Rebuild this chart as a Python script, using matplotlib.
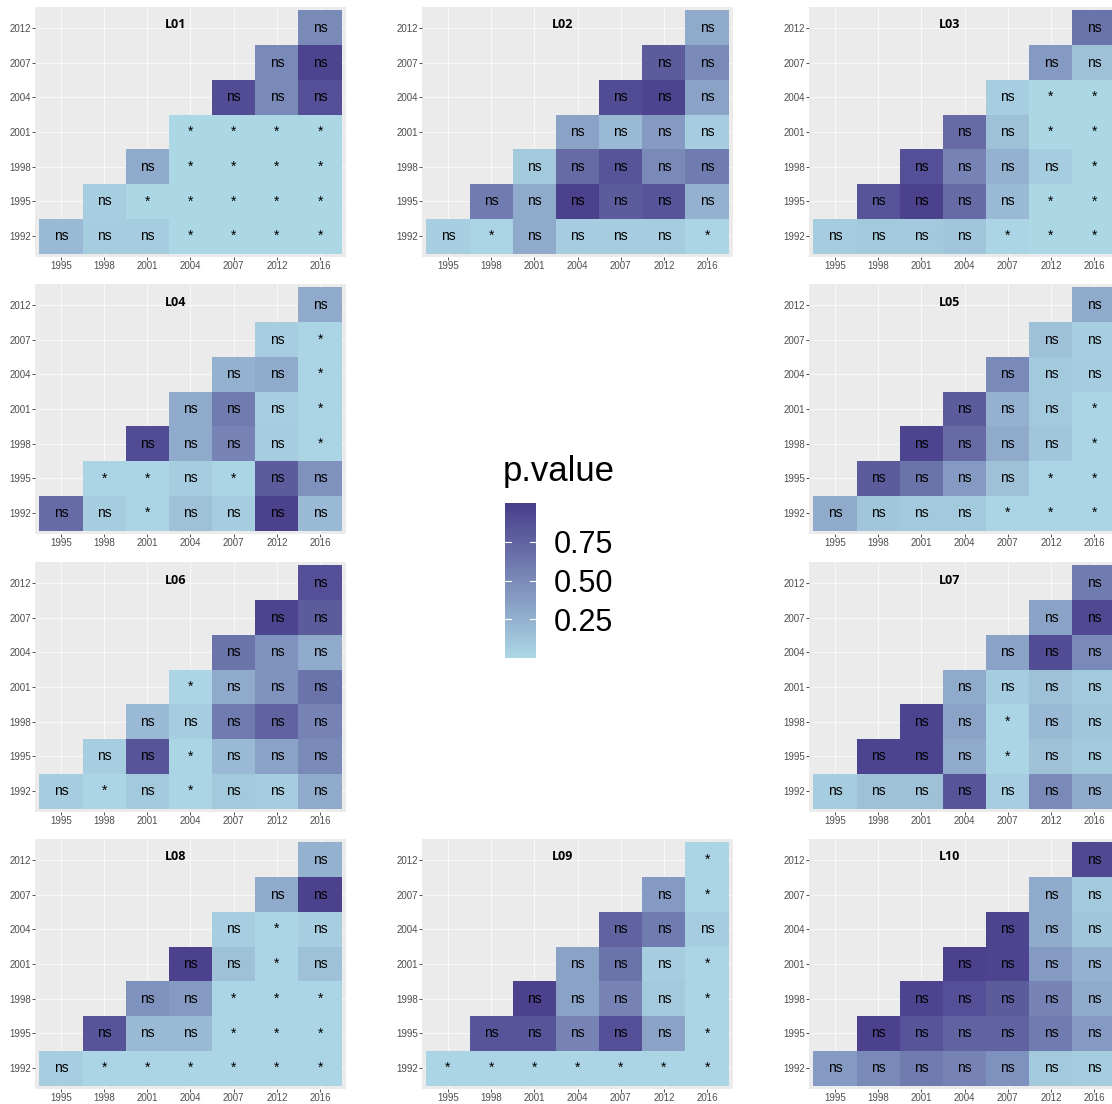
import numpy as np
import matplotlib
matplotlib.use("Agg")
import matplotlib.pyplot as plt
from matplotlib.colors import LinearSegmentedColormap, Normalize

# years on each axis of the pairwise comparison
x_years = ["1995", "1998", "2001", "2004", "2007", "2012", "2016"]
y_years = ["1992", "1995", "1998", "2001", "2004", "2007", "2012"]

# p-values, one row per y year (1992 upwards), starting at the diagonal
p_L01 = [[0.20, 0.08, 0.08, 0.01, 0.01, 0.01, 0.01],
         [0.07, 0.01, 0.01, 0.01, 0.01, 0.01],
         [0.30, 0.01, 0.01, 0.01, 0.01],
         [0.01, 0.01, 0.01, 0.01],
         [0.90, 0.50, 0.88],
         [0.50, 0.95],
         [0.50]]
p_L02 = [[0.06, 0.03, 0.30, 0.08, 0.08, 0.08, 0.02],
         [0.60, 0.30, 0.97, 0.80, 0.85, 0.25],
         [0.10, 0.70, 0.85, 0.50, 0.60],
         [0.35, 0.20, 0.40, 0.08],
         [0.90, 0.95, 0.35],
         [0.80, 0.50],
         [0.30]]
p_L03 = [[0.08, 0.10, 0.10, 0.12, 0.02, 0.01, 0.01],
         [0.85, 0.97, 0.70, 0.20, 0.01, 0.01],
         [0.88, 0.55, 0.25, 0.08, 0.01],
         [0.70, 0.15, 0.01, 0.01],
         [0.07, 0.01, 0.01],
         [0.40, 0.15],
         [0.65]]
p_L04 = [[0.70, 0.08, 0.02, 0.15, 0.08, 0.97, 0.20],
         [0.02, 0.02, 0.08, 0.02, 0.80, 0.45],
         [0.90, 0.30, 0.55, 0.08, 0.02],
         [0.30, 0.60, 0.07, 0.02],
         [0.25, 0.30, 0.02],
         [0.07, 0.02],
         [0.30]]
p_L05 = [[0.30, 0.12, 0.10, 0.10, 0.02, 0.02, 0.02],
         [0.80, 0.65, 0.40, 0.15, 0.02, 0.02],
         [0.95, 0.70, 0.30, 0.12, 0.02],
         [0.80, 0.25, 0.10, 0.02],
         [0.50, 0.10, 0.08],
         [0.15, 0.07],
         [0.30]]
p_L06 = [[0.08, 0.02, 0.10, 0.02, 0.10, 0.08, 0.30],
         [0.07, 0.85, 0.02, 0.20, 0.35, 0.50],
         [0.20, 0.08, 0.60, 0.75, 0.55],
         [0.02, 0.30, 0.45, 0.65],
         [0.65, 0.45, 0.30],
         [0.95, 0.80],
         [0.88]]
p_L07 = [[0.08, 0.15, 0.15, 0.85, 0.07, 0.50, 0.30],
         [0.95, 0.95, 0.30, 0.02, 0.15, 0.10],
         [0.95, 0.35, 0.02, 0.20, 0.12],
         [0.30, 0.08, 0.15, 0.10],
         [0.35, 0.90, 0.50],
         [0.35, 0.92],
         [0.60]]
p_L08 = [[0.07, 0.02, 0.02, 0.02, 0.02, 0.02, 0.02],
         [0.85, 0.20, 0.20, 0.02, 0.02, 0.02],
         [0.45, 0.40, 0.02, 0.02, 0.02],
         [0.97, 0.15, 0.02, 0.15],
         [0.07, 0.02, 0.07],
         [0.30, 0.97],
         [0.25]]
p_L09 = [[0.02, 0.02, 0.02, 0.02, 0.02, 0.02, 0.02],
         [0.85, 0.85, 0.55, 0.88, 0.35, 0.02],
         [0.97, 0.35, 0.55, 0.10, 0.02],
         [0.35, 0.65, 0.08, 0.02],
         [0.75, 0.60, 0.08],
         [0.40, 0.02],
         [0.02]]
p_L10 = [[0.40, 0.50, 0.60, 0.55, 0.45, 0.10, 0.08],
         [0.97, 0.85, 0.75, 0.75, 0.60, 0.40],
         [0.95, 0.88, 0.80, 0.55, 0.30],
         [0.97, 0.95, 0.40, 0.25],
         [0.95, 0.30, 0.12],
         [0.30, 0.10],
         [0.92]]

panels = [("L01", p_L01, 0, 0), ("L02", p_L02, 0, 1), ("L03", p_L03, 0, 2),
          ("L04", p_L04, 1, 0), ("L05", p_L05, 1, 2),
          ("L06", p_L06, 2, 0), ("L07", p_L07, 2, 2),
          ("L08", p_L08, 3, 0), ("L09", p_L09, 3, 1), ("L10", p_L10, 3, 2)]

W, H = 1112, 1104
col_left = [35, 422, 809]
row_top = [7, 284, 562, 839]
pw, ph = 311, 250

cmap = LinearSegmentedColormap.from_list("pval", ["#ADD8E6", "#483D8B"])
norm = Normalize(vmin=0, vmax=1)

fig = plt.figure(figsize=(W / 100, H / 100), dpi=100)
fig.patch.set_facecolor("white")


def to_grid(rows):
    n = len(x_years)
    grid = np.full((n, n), np.nan)
    for j, row in enumerate(rows):
        for k, v in enumerate(row):
            grid[j, j + k] = v
    return grid


for name, rows, r, c in panels:
    left = col_left[c] / W
    bottom = 1 - (row_top[r] + ph) / H
    ax = fig.add_axes([left, bottom, pw / W, ph / H])
    ax.set_facecolor("#EBEBEB")
    grid = to_grid(rows)
    edges = np.arange(len(x_years) + 1) - 0.5
    ax.pcolormesh(edges, edges, np.ma.masked_invalid(grid), cmap=cmap, norm=norm,
                  edgecolors="none", antialiased=False, zorder=2)
    for j in range(grid.shape[0]):
        for i in range(grid.shape[1]):
            if np.isnan(grid[j, i]):
                continue
            lab = "*" if grid[j, i] < 0.05 else "ns"
            ax.text(i, j, lab, ha="center", va="center", fontsize=10,
                    family="Liberation Sans", color="black", zorder=3)
    ax.set_xlim(-0.6, len(x_years) - 0.4)
    ax.set_ylim(-0.6, len(y_years) - 0.4)
    ax.set_xticks(range(len(x_years)))
    ax.set_xticklabels(x_years)
    ax.set_yticks(range(len(y_years)))
    ax.set_yticklabels(y_years)
    ax.grid(True, color="white", linewidth=0.5, zorder=1)
    ax.set_axisbelow(True)
    ax.tick_params(length=2, width=0.6, color="#333333", labelcolor="#4D4D4D",
                   labelsize=7, pad=0.8)
    for lab in ax.get_xticklabels() + ax.get_yticklabels():
        lab.set_family("Liberation Sans")
    for s in ax.spines.values():
        s.set_visible(False)
    ax.text(0.453, 0.928, name, transform=ax.transAxes, ha="center", va="center",
            fontsize=9, fontweight="bold", family="Open Sans", zorder=4)

# colour bar for the p-values
cax = fig.add_axes([505 / W, 1 - 658 / H, 31 / W, 155 / H])
grad = np.linspace(0, 1, 256).reshape(-1, 1)
cax.imshow(grad, aspect="auto", cmap=cmap, norm=norm, origin="lower",
           extent=[0, 1, 0, 1])
cax.set_xlim(0, 1)
cax.set_ylim(0, 1)
for t in [0.25, 0.50, 0.75]:
    cax.plot([0, 0.2], [t, t], color="white", lw=0.8)
    cax.plot([0.8, 1], [t, t], color="white", lw=0.8)
cax.set_xticks([])
cax.set_yticks([0.25, 0.50, 0.75])
cax.set_yticklabels(["0.25", "0.50", "0.75"])
cax.yaxis.tick_right()
cax.tick_params(length=0, labelsize=22, pad=13, labelcolor="black")
for lab in cax.get_yticklabels():
    lab.set_family("Liberation Sans")
for s in cax.spines.values():
    s.set_visible(False)
fig.text(503 / W, 1 - 472 / H, "p.value", ha="left", va="center", fontsize=25,
         family="Liberation Sans")

fig.savefig("out.png", dpi=100)
